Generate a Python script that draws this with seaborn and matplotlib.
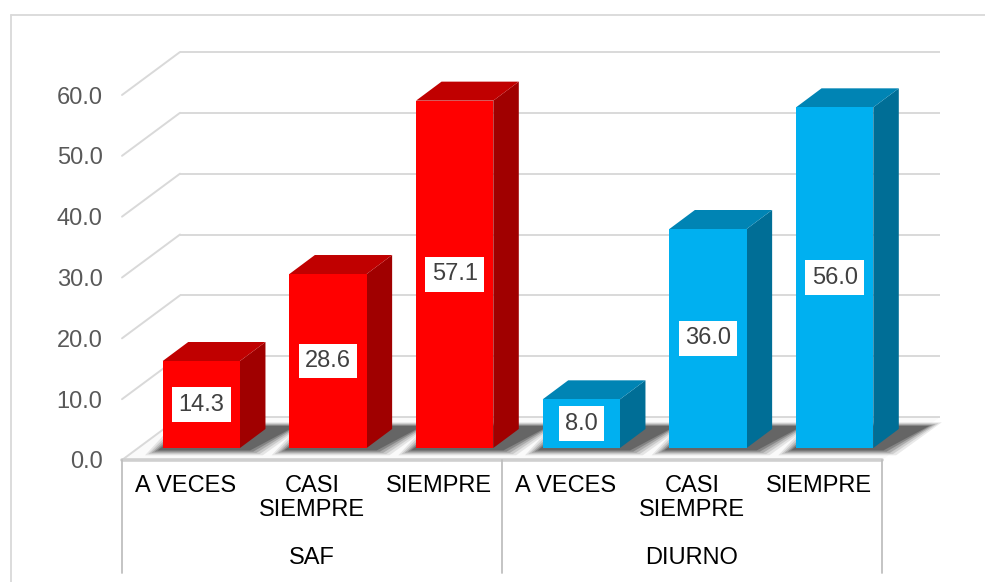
import matplotlib
matplotlib.use("Agg")
import matplotlib.pyplot as plt
from matplotlib.patches import Polygon
from matplotlib.lines import Line2D
import pandas as pd
import seaborn as sns

# data
groups = ["SAF", "SAF", "SAF", "DIURNO", "DIURNO", "DIURNO"]
answers = ["A VECES", "CASI\nSIEMPRE", "SIEMPRE", "A VECES", "CASI\nSIEMPRE", "SIEMPRE"]
values = [14.3, 28.6, 57.1, 8.0, 36.0, 56.0]
y_ticks = [0, 10, 20, 30, 40, 50, 60]
group_names = ["SAF", "DIURNO"]

FRONT = {"SAF": "#FF0000", "DIURNO": "#00B0F0"}
TOP = {"SAF": "#C00000", "DIURNO": "#0084B4"}
SIDE = {"SAF": "#A00000", "DIURNO": "#006E96"}
GRID = "#D9D9D9"
AXIS = "#BFBFBF"

# layout in pixels (front plane of the floor)
W, H = 985, 582
X0, X1 = 122, 882
Y0, YTOP = 460, 95
PPC = (X1 - X0) / 6.0        # pixels per category
PPU = (Y0 - YTOP) / 60.0     # pixels per value unit
DEPTH_PX = (58, 43)          # full depth of the 3d box
BAR_OFF_PX = (16, 12)        # bars start this far back
BAR_DEPTH_PX = (25.5, 19)    # depth of a bar

DX, DY = DEPTH_PX[0] / PPC, DEPTH_PX[1] / PPU
BDX, BDY = BAR_DEPTH_PX[0] / PPC, BAR_DEPTH_PX[1] / PPU

sns.set_style("white")
plt.rcParams["font.family"] = ["Liberation Sans", "DejaVu Sans"]

df = pd.DataFrame({
    "key": [g + "|" + a for g, a in zip(groups, answers)],
    "grupo": groups,
    "respuesta": answers,
    "valor": values,
})

fig = plt.figure(figsize=(W / 100, H / 100), dpi=100)
fig.patch.set_facecolor("white")

ax = fig.add_axes([X0 / W, 1 - Y0 / H, (X1 - X0) / W, (Y0 - YTOP) / H])
ax.set_facecolor("none")
ax.set_xlim(-0.5, 5.5)
ax.set_ylim(0, 60)
for s in ax.spines.values():
    s.set_visible(False)

# floor
floor = Polygon([(-0.5, 0), (5.5, 0), (5.5 + DX, DY), (-0.5 + DX, DY)],
                closed=True, fc="#FAFAFA", ec="none", clip_on=False, zorder=0)
ax.add_patch(floor)

# back wall + side wall gridlines
for v in y_ticks:
    ax.plot([-0.5 + DX, 5.5 + DX], [v + DY, v + DY], color=GRID, lw=1.4,
            clip_on=False, zorder=1, solid_capstyle="butt")
    ax.plot([-0.5, -0.5 + DX], [v, v + DY], color=GRID, lw=1.4,
            clip_on=False, zorder=1)

# front edge of floor
ax.plot([-0.5, 5.5], [0, 0], color="#CFCFCF", lw=2.6, clip_on=False, zorder=2)

# category axis boxes
bottom_v = -(573 - Y0) / PPU
for xv in [-0.5, 2.5, 5.5]:
    ax.plot([xv, xv], [0, bottom_v], color=AXIS, lw=1.3, clip_on=False, zorder=2)

ax.set_yticks(y_ticks)
ax.set_yticklabels([f"{v:.1f}" for v in y_ticks])
ax.tick_params(axis="y", length=0, pad=14, labelsize=17, labelcolor="#595959")
ax.set_xticks(range(len(answers)))
ax.set_xticklabels(answers)
ax.tick_params(axis="x", length=0, pad=11, labelsize=17, labelcolor="black")
for lab in ax.get_xticklabels():
    lab.set_linespacing(1.12)

for name in group_names:
    idx = [i for i, g in enumerate(groups) if g == name]
    cx = sum(idx) / len(idx)
    ax.annotate(name, xy=(cx, 0), xytext=(0, -98), textcoords="offset pixels",
                ha="center", va="center", fontsize=17, color="black",
                annotation_clip=False)

# bar plane, set back from the front of the floor
axb = fig.add_axes([(X0 + BAR_OFF_PX[0]) / W, 1 - (Y0 - BAR_OFF_PX[1]) / H,
                    (X1 - X0) / W, (Y0 - YTOP) / H])
axb.set_facecolor("none")
sns.barplot(data=df, x="key", y="valor", hue="grupo", palette=FRONT,
            width=0.61, dodge=False, legend=False, ax=axb,
            saturation=1, edgecolor="none", linewidth=0)
axb.set_xlim(-0.5, 5.5)
axb.set_ylim(0, 60)
axb.axis("off")

bars = sorted(axb.patches, key=lambda p: p.get_x())
for i, p in enumerate(bars):
    g = groups[i]
    x0 = p.get_x()
    x1 = x0 + p.get_width()
    v = p.get_height()
    # soft shadow on the floor
    for k, a in enumerate([0.10, 0.14, 0.20, 0.28, 0.35]):
        e = (4 - k) * 0.025
        sh = Polygon([(x0 - 0.04 - e, -0.4 - e * 8), (x1 + 0.08 + e, -0.4 - e * 8),
                      (x1 + BDX + 0.24 + e, BDY + 0.5 + e * 6),
                      (x0 + BDX - e, BDY + 0.5 + e * 6)],
                     closed=True, fc="#2A2A2A", ec="none", alpha=a,
                     clip_on=False, zorder=0.5)
        axb.add_patch(sh)
    side = Polygon([(x1, 0), (x1 + BDX, BDY), (x1 + BDX, v + BDY), (x1, v)],
                   closed=True, fc=SIDE[g], ec="none", clip_on=False, zorder=2)
    top = Polygon([(x0, v), (x1, v), (x1 + BDX, v + BDY), (x0 + BDX, v + BDY)],
                  closed=True, fc=TOP[g], ec="none", clip_on=False, zorder=2)
    axb.add_patch(side)
    axb.add_patch(top)
    p.set_zorder(3)
    axb.text(x0 + p.get_width() / 2, v / 2, f"{v:.1f}", ha="center", va="center",
             fontsize=17, color="#404040", zorder=5,
             bbox=dict(boxstyle="square,pad=0.27", fc="white", ec="none"))

# outer chart border
fig.add_artist(Line2D([11 / W, 11 / W], [0, 1 - 15 / H], color=GRID, lw=1.3))
fig.add_artist(Line2D([11 / W, 1], [1 - 15 / H, 1 - 15 / H], color=GRID, lw=1.3))

fig.savefig("out.png", dpi=100, facecolor="white")
